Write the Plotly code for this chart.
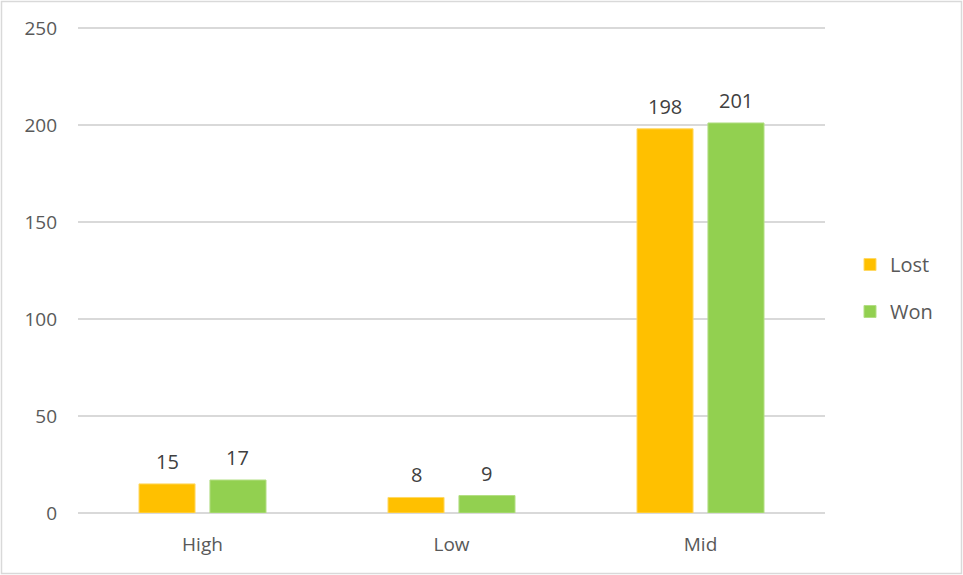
import plotly.graph_objects as go

categories = ["High", "Low", "Mid"]
lost = [15, 8, 198]
won = [17, 9, 201]
y_ticks = [0, 50, 100, 150, 200, 250]

W, H = 963, 575
L, R, T, B = 78, 138, 24, 62
Y_MAX = 252
font = "Open Sans"
txt = "#595959"
BARGAP = 0.43

pw = W - L - R
ph = H - T - B
cat_w = pw / len(categories)
slot = cat_w * (1 - BARGAP) / 2

fig = go.Figure()
fig.add_trace(go.Bar(x=categories, y=lost, name="Lost",
                     marker=dict(color="#FFC000", line=dict(color="#FFD966", width=1)),
                     legendgroup="a"))
fig.add_trace(go.Bar(x=categories, y=won, name="Won",
                     marker=dict(color="#92D050", line=dict(color="#B3DE84", width=1)),
                     legendgroup="b"))

annotations = []
for vals, sh in ((lost, -slot / 2), (won, slot / 2)):
    for c, v in zip(categories, vals):
        annotations.append(dict(x=c, y=v, xref="x", yref="y", text=str(v), showarrow=False,
                                xshift=sh, yshift=7, yanchor="bottom",
                                font=dict(size=20, color="#404040", family=font)))

fig.update_layout(
    width=W, height=H,
    margin=dict(l=L, r=R, t=T, b=B, autoexpand=False),
    paper_bgcolor="white", plot_bgcolor="white",
    barmode="group", bargap=BARGAP, bargroupgap=0.21,
    font=dict(family=font, color=txt, size=19),
    legend=dict(x=(850 - L) / pw, y=(H - B - 288) / ph, xanchor="left", yanchor="middle",
                font=dict(size=20, color=txt), tracegroupgap=18, traceorder="grouped",
                bgcolor="rgba(0,0,0,0)"),
    xaxis=dict(showgrid=False, showline=False, ticks="", tickfont=dict(size=19, color=txt),
               ticklabelstandoff=18),
    yaxis=dict(range=[0, Y_MAX], tickvals=y_ticks, showgrid=True, gridcolor="#D9D9D9", gridwidth=1.5,
               zeroline=True, zerolinecolor="#D9D9D9", zerolinewidth=1.5, showline=False,
               ticks="", tickfont=dict(size=19, color=txt), ticklabelstandoff=20),
    annotations=annotations,
    shapes=[dict(type="rect", xref="paper", yref="paper",
                 x0=(1.5 - L) / pw, x1=(W - 1.5 - L) / pw,
                 y0=-(B - 1.5) / ph, y1=1 + (T - 1.5) / ph,
                 line=dict(color="#D9D9D9", width=1.5), fillcolor="rgba(0,0,0,0)", layer="below")],
)
fig.write_html("out.html")
